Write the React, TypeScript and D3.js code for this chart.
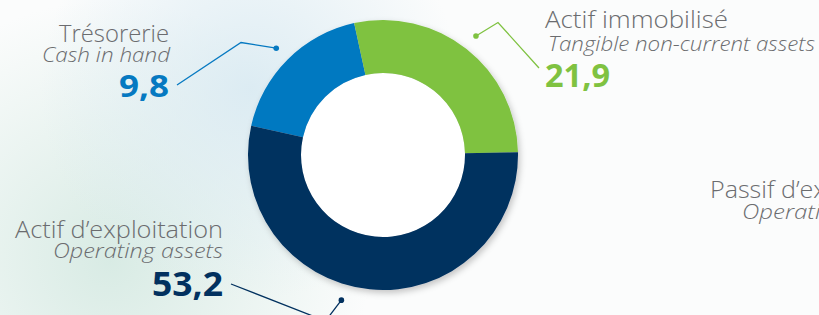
import React from 'react';
import * as d3 from 'd3';

// Slices, in drawing order (clockwise from the left of the ring)
const labelsFr = ['Trésorerie', 'Actif immobilisé', 'Actif d’exploitation'];
const labelsEn = ['Cash in hand', 'Tangible non-current assets', 'Operating assets'];
const values = [9.8, 21.9, 53.2];
// share of the ring that each slice takes in the picture (%)
const shares = [18.1, 28.1, 53.8];
const colors = ['#0679c1', '#7fc241', '#02315f'];

// right-hand label, cut off by the frame
const offLabelFr = 'Passif d’exploitation';
const offLabelEn = 'Operating liabilities';

const W = 819;
const H = 315;
const cx = 383;
const cy = 155;
const outerR = 135;
const innerR = 82;

const fmt = (v: number) => d3.format('.1f')(v).replace('.', ',');

const App: React.FC = () => {
  const pie = d3.pie<number>()
    .sort(null)
    .value(d => d)
    .startAngle((-77.5 * Math.PI) / 180)
    .endAngle((282.5 * Math.PI) / 180);
  const arcs = pie(shares);
  const arc = d3.arc<d3.PieArcDatum<number>>().innerRadius(innerR).outerRadius(outerR);

  // label layout: text anchor, baselines, text widths, leader polyline
  const layout = [
    { anchor: 'end', x: 169, y: 42, enDx: 1, enDy: 20, numDy: 55, numSize: 30,
      wFr: 110, wEn: 128, wNum: 50, dotAngle: -45, leader: [[177, 85], [241, 42.5]] },
    { anchor: 'start', x: 545, y: 28, enDx: 3, enDy: 22.5, numDy: 59, numSize: 33,
      wFr: 183, wEn: 267, wNum: 65, dotAngle: 38, leader: [[539, 68], [498, 22.5]] },
    { anchor: 'end', x: 223, y: 238, enDx: 0, enDy: 20, numDy: 58, numSize: 34,
      wFr: 208, wEn: 170, wNum: 71, dotAngle: 196, leader: [[231, 284], [325.5, 321]] },
  ];
  const dotR = 151;
  const dot = (deg: number) => {
    const a = (deg * Math.PI) / 180;
    return [cx + dotR * Math.sin(a), cy - dotR * Math.cos(a)];
  };
  const line = d3.line();

  const font = "'Open Sans', 'DejaVu Sans', sans-serif";
  const grey = '#6b6c6f';

  return (
    <svg width={W} height={H} style={{ position: 'fixed', left: 0, top: 0 }}>
      <defs>
        <radialGradient id="bgA" cx="110" cy="260" r="260" gradientUnits="userSpaceOnUse">
          <stop offset="0" stopColor="#d2e8e0" stopOpacity={0.85} />
          <stop offset="1" stopColor="#d2e8e0" stopOpacity={0} />
        </radialGradient>
        <radialGradient id="bgB" cx="250" cy="90" r="210" gradientUnits="userSpaceOnUse">
          <stop offset="0" stopColor="#d9eaf2" stopOpacity={0.9} />
          <stop offset="1" stopColor="#d9eaf2" stopOpacity={0} />
        </radialGradient>
        <filter id="shadow" x="-20%" y="-20%" width="140%" height="140%">
          <feDropShadow dx="2" dy="3" stdDeviation="3" floodColor="#000" floodOpacity="0.22" />
        </filter>
      </defs>
      <rect width={W} height={H} fill="#fbfcfc" />
      <rect width={W} height={H} fill="url(#bgA)" />
      <rect width={W} height={H} fill="url(#bgB)" />

      <g transform={`translate(${cx},${cy})`} filter="url(#shadow)">
        <circle r={innerR} fill="#ffffff" />
        {arcs.map((a, i) => (
          <path key={i} d={arc(a) || ''} fill={colors[i]} />
        ))}
      </g>

      {layout.map((l, i) => {
        const d = dot(l.dotAngle);
        const pts = [...l.leader, d] as [number, number][];
        return (
          <g key={i}>
            <path d={line(pts) || ''} fill="none" stroke={colors[i]} strokeWidth={1.3} />
            <circle cx={d[0]} cy={d[1]} r={2.8} fill={colors[i]} />
            <text x={l.x} y={l.y} textAnchor={l.anchor} fontFamily={font} fontWeight={300}
              fontSize={23} fill={grey} textLength={l.wFr} lengthAdjust="spacingAndGlyphs">{labelsFr[i]}</text>
            <text x={l.x + (l.anchor === 'end' ? l.enDx : l.enDx)} y={l.y + l.enDy} textAnchor={l.anchor}
              fontFamily={font} fontWeight={300} fontStyle="italic" fontSize={20} fill={grey}
              textLength={l.wEn} lengthAdjust="spacingAndGlyphs">{labelsEn[i]}</text>
            <text x={l.x} y={l.y + l.numDy} textAnchor={l.anchor} fontFamily={font} fontWeight={700}
              fontSize={l.numSize} fill={colors[i]} textLength={l.wNum}
              lengthAdjust="spacingAndGlyphs">{fmt(values[i])}</text>
          </g>
        );
      })}

      <text x={710} y={198} fontFamily={font} fontWeight={300} fontSize={23} fill={grey}
        textLength={222} lengthAdjust="spacingAndGlyphs">{offLabelFr}</text>
      <text x={742} y={219} fontFamily={font} fontWeight={300} fontStyle="italic" fontSize={20} fill={grey}
        textLength={200} lengthAdjust="spacingAndGlyphs">{offLabelEn}</text>
    </svg>
  );
};

export default App;
